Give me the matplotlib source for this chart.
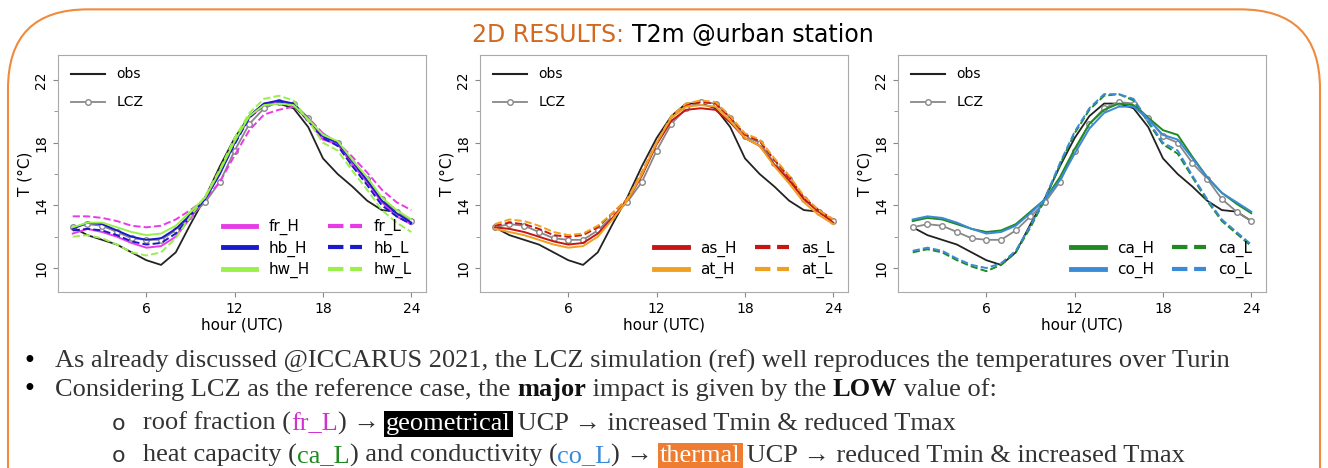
import matplotlib
matplotlib.use("Agg")
import matplotlib.pyplot as plt
from matplotlib.patches import FancyBboxPatch
from matplotlib.lines import Line2D

hours = list(range(1, 25))
obs = [12.6, 12.1, 11.8, 11.5, 11.0, 10.5, 10.2, 11.0, 12.8, 14.5, 16.5, 18.3,
       19.7, 20.5, 20.5, 20.2, 19.0, 17.0, 16.0, 15.2, 14.3, 13.7, 13.6, 13.0]
lcz = [12.6, 12.8, 12.7, 12.3, 11.9, 11.8, 11.8, 12.4, 13.3, 14.2, 15.5, 17.5,
       19.2, 20.2, 20.6, 20.5, 19.6, 18.4, 18.0, 16.7, 15.7, 14.4, 13.6, 13.0]

fr_H = [12.2, 12.5, 12.3, 12.0, 11.6, 11.3, 11.4, 12.0, 13.2, 14.5, 16.2, 18.0, 19.6, 20.4, 20.6, 20.4, 19.4, 18.2, 17.9, 16.6, 15.5, 14.2, 13.3, 12.8]
fr_L = [13.3, 13.3, 13.2, 13.0, 12.7, 12.6, 12.7, 13.1, 13.7, 14.4, 15.5, 17.2, 18.8, 19.8, 20.1, 20.3, 19.6, 18.6, 18.0, 17.1, 16.1, 15.0, 14.2, 13.7]
hb_H = [12.5, 12.9, 12.8, 12.4, 12.0, 11.8, 11.9, 12.5, 13.4, 14.4, 16.0, 18.0, 19.7, 20.5, 20.7, 20.5, 19.5, 18.4, 18.0, 16.8, 15.6, 14.3, 13.5, 12.9]
hb_L = [12.4, 12.5, 12.4, 12.1, 11.7, 11.5, 11.6, 12.2, 13.3, 14.5, 16.1, 17.9, 19.6, 20.4, 20.6, 20.4, 19.4, 18.3, 17.8, 16.5, 15.3, 14.0, 13.3, 12.8]
hw_H = [12.6, 12.9, 12.9, 12.6, 12.3, 12.1, 12.2, 12.7, 13.6, 14.5, 16.2, 18.1, 19.7, 20.4, 20.5, 20.4, 19.5, 18.5, 18.1, 16.9, 15.8, 14.5, 13.7, 13.1]
hw_L = [12.0, 12.1, 11.9, 11.5, 11.0, 10.8, 11.0, 11.9, 13.3, 14.6, 16.3, 18.3, 19.9, 20.8, 21.0, 20.7, 19.4, 18.0, 17.5, 16.2, 15.0, 13.7, 12.9, 12.3]

as_H = [12.6, 12.5, 12.3, 12.0, 11.7, 11.5, 11.6, 12.2, 13.2, 14.3, 15.9, 17.9, 19.4, 20.1, 20.2, 20.1, 19.3, 18.3, 17.8, 16.6, 15.6, 14.4, 13.6, 12.9]
as_L = [12.7, 12.9, 12.8, 12.5, 12.1, 12.0, 12.1, 12.6, 13.5, 14.4, 16.1, 18.0, 19.6, 20.4, 20.6, 20.5, 19.6, 18.5, 18.1, 16.9, 15.8, 14.5, 13.7, 13.1]
at_H = [12.5, 12.3, 12.1, 11.8, 11.5, 11.3, 11.4, 12.0, 13.1, 14.3, 16.0, 18.0, 19.6, 20.3, 20.4, 20.3, 19.4, 18.3, 17.8, 16.5, 15.4, 14.2, 13.4, 12.8]
at_L = [12.8, 13.1, 13.0, 12.7, 12.3, 12.1, 12.2, 12.7, 13.5, 14.4, 16.1, 18.0, 19.7, 20.5, 20.7, 20.6, 19.7, 18.6, 18.2, 17.0, 15.9, 14.6, 13.7, 13.1]

ca_H = [13.0, 13.2, 13.1, 12.8, 12.5, 12.3, 12.4, 12.8, 13.6, 14.4, 15.8, 17.6, 19.2, 20.1, 20.5, 20.4, 19.6, 18.8, 18.5, 17.1, 15.8, 14.8, 14.1, 13.5]
co_H = [13.1, 13.3, 13.2, 12.9, 12.5, 12.2, 12.3, 12.7, 13.5, 14.4, 15.6, 17.3, 18.9, 19.9, 20.3, 20.3, 19.5, 18.5, 18.2, 17.0, 15.8, 14.8, 14.2, 13.6]
ca_L = [11.0, 11.2, 11.0, 10.5, 10.1, 9.8, 10.2, 11.0, 12.6, 14.4, 16.6, 18.6, 20.1, 21.0, 21.1, 20.7, 19.3, 17.9, 17.3, 15.8, 14.3, 13.0, 12.2, 11.4]
co_L = [11.1, 11.3, 11.1, 10.6, 10.2, 10.0, 10.3, 11.1, 12.7, 14.5, 16.7, 18.7, 20.2, 21.1, 21.1, 20.8, 19.4, 18.0, 17.5, 15.9, 14.4, 13.1, 12.3, 11.5]

panels = [
    [("fr", fr_H, fr_L, "#e83be8"), ("hb", hb_H, hb_L, "#1a1acc"), ("hw", hw_H, hw_L, "#9af04a")],
    [("as", as_H, as_L, "#c81414"), ("at", at_H, at_L, "#f0a020")],
    [("ca", ca_H, ca_L, "#208a20"), ("co", co_H, co_L, "#3a8ad8")],
]
lefts = [58, 480, 898]

fig = plt.figure(figsize=(13.28, 4.68), dpi=100)
W, H = 1328, 468

# bordo della slide
fig.patches.append(FancyBboxPatch((8 / W, -0.2), 1312 / W, 1.18, transform=fig.transFigure,
                                  boxstyle="round,pad=0,rounding_size=0.06", fill=False,
                                  edgecolor="#f08a3c", linewidth=1.5, mutation_aspect=W / H))

for left, series in zip(lefts, panels):
    ax = fig.add_axes([left / W, 1 - 292 / H, 368 / W, 237 / H])
    ax.plot(hours, obs, color="#222222", lw=1.3)
    ax.plot(hours, lcz, color="#888888", lw=1.3, marker="o", ms=4, mfc="white", mec="#888888")
    handles = []
    for name, hi, lo, c in series:
        ax.plot(hours, hi, color=c, lw=1.4)
        ax.plot(hours, lo, color=c, lw=1.4, ls="--")
        handles.append((Line2D([], [], color=c, lw=3.5), f"{name}_H", Line2D([], [], color=c, lw=3, ls="--"), f"{name}_L"))
    ax.set_xlim(0, 25)
    ax.set_ylim(8.47, 23.6)
    ax.set_xticks([6, 12, 18, 24])
    ax.set_yticks([10, 14, 18, 22])
    ax.set_yticks([12, 16, 20], minor=True)
    ax.tick_params(axis="y", which="minor", length=3, color="#888888")
    ax.tick_params(labelsize=10, color="#888888")
    for lab in ax.get_yticklabels():
        lab.set_rotation(90)
        lab.set_va("center")
    for s in ax.spines.values():
        s.set_color("#aaaaaa")
    ax.set_xlabel("hour (UTC)", fontsize=11, labelpad=1)
    ax.set_ylabel("T (°C)", fontsize=11, labelpad=1)
    leg1 = ax.legend([Line2D([], [], color="#222222", lw=1.5),
                      Line2D([], [], color="#888888", lw=1.3, marker="o", ms=4, mfc="white")],
                     ["obs", "LCZ"], loc="upper left", frameon=False, fontsize=10,
                     handlelength=2.5, labelspacing=1.0)
    ax.add_artist(leg1)
    hs = [h[0] for h in handles] + [h[2] for h in handles]
    ls = [h[1] for h in handles] + [h[3] for h in handles]
    ax.legend(hs, ls, ncol=2, loc="lower right", frameon=False, fontsize=11,
              handlelength=2.2, columnspacing=1.2, labelspacing=0.35)

renderer = fig.canvas.get_renderer()


def rich(pieces, x, y, size, family="Liberation Serif"):
    # scrive pezzi di testo uno dopo l'altro
    for txt, color, bg, weight in pieces:
        kw = {}
        if bg:
            kw["bbox"] = dict(facecolor=bg, edgecolor="none", pad=1.5)
        t = fig.text(x, y, txt, color=color, fontsize=size, family=family, weight=weight,
                     va="baseline", **kw)
        bb = t.get_window_extent(renderer)
        x += bb.width / W
    return x


t1 = [("2D RESULTS: ", "#d2691e", None, "normal"), ("T2m @urban station", "black", None, "normal")]
rich(t1, 472 / W, 1 - 42 / H, 17, "DejaVu Sans")

fs = 19
fig.text(22 / W, 1 - 368 / H, "•", fontsize=fs - 2)
fig.text(22 / W, 1 - 396 / H, "•", fontsize=fs - 2)
rich([("As already discussed @ICCARUS 2021, the LCZ simulation (ref) well reproduces the temperatures over Turin", "#333333", None, "normal")],
     55 / W, 1 - 368 / H, fs)
rich([("Considering LCZ as the reference case, the ", "#333333", None, "normal"), ("major", "#111111", None, "bold"),
      (" impact is given by the ", "#333333", None, "normal"), ("LOW", "#111111", None, "bold"),
      (" value of:", "#333333", None, "normal")], 55 / W, 1 - 396 / H, fs)
fig.text(112 / W, 1 - 430 / H, "o", fontsize=fs - 3, color="#333333")
fig.text(112 / W, 1 - 462 / H, "o", fontsize=fs - 3, color="#333333")
rich([("roof fraction (", "#333333", None, "normal"), ("fr_L", "#d030d0", None, "normal"),
      (") → ", "#333333", None, "normal"), ("geometrical", "white", "black", "normal"),
      (" UCP → increased Tmin & reduced Tmax", "#333333", None, "normal")], 143 / W, 1 - 430 / H, fs)
rich([("heat capacity (", "#333333", None, "normal"), ("ca_L", "#208a20", None, "normal"),
      (") and conductivity (", "#333333", None, "normal"), ("co_L", "#3a8ad8", None, "normal"),
      (") → ", "#333333", None, "normal"), ("thermal", "white", "#ee7d31", "normal"),
      (" UCP → reduced Tmin & increased Tmax", "#333333", None, "normal")], 143 / W, 1 - 462 / H, fs)

fig.savefig("out.png", dpi=100)
